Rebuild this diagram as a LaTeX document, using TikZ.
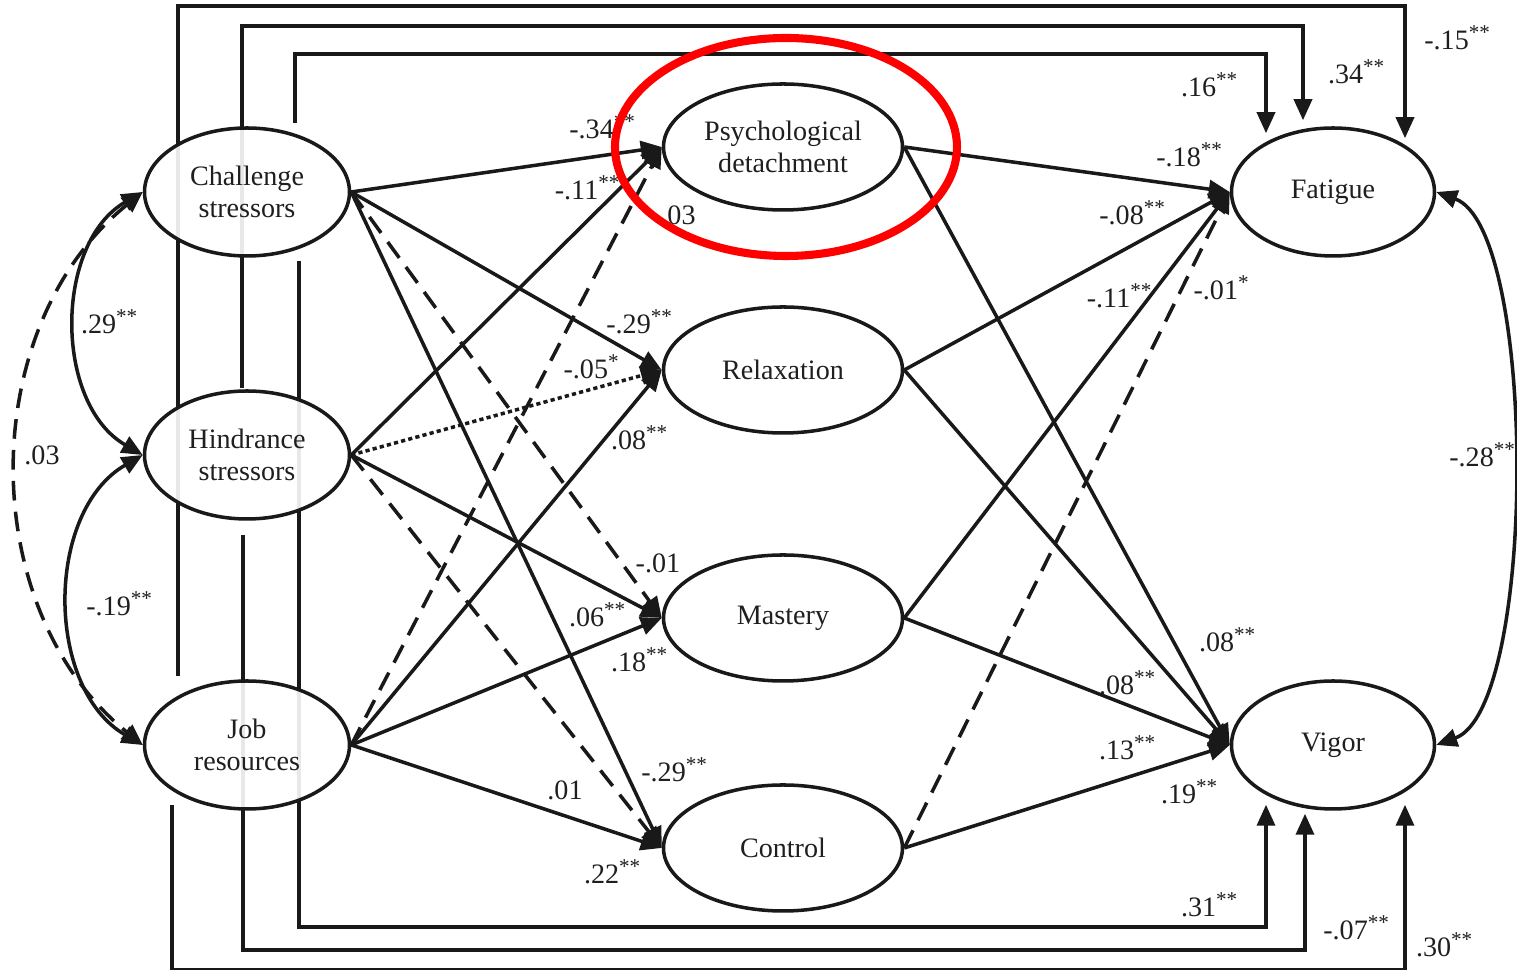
\documentclass[tikz,border=0pt]{standalone}
\usepackage{fontspec}
\setmainfont{Liberation Serif}
\usetikzlibrary{
  shapes.geometric,
  arrows.meta,
  positioning, calc,
  backgrounds
}
\newcommand{\sigb}{\textsuperscript{**}}
\newcommand{\siga}{\textsuperscript{*}}

\begin{document}
\begin{tikzpicture}[
  font=\fontsize{8}{9}\selectfont,
  >={Triangle[length=0.21cm, width=0.18cm]},
  text=black!88,
  %--- ellipse styles for the latent constructs ---
  construct/.style={
    draw=black!90, fill=white, fill opacity=0.9, text opacity=1,
    ellipse, inner sep=0pt,
    minimum width=2.05cm, minimum height=1.28cm,
    align=center, line width=1pt
  },
  mediator/.style={
    construct, minimum width=2.39cm, minimum height=1.26cm
  },
  %--- path styles ---
  effect/.style={
    ->, draw=black!90, line width=1pt
  },
  nseffect/.style={
    effect, dash pattern=on 5.6pt off 3.2pt
  },
  doteffect/.style={
    effect, dash pattern=on 1.2pt off 0.9pt
  },
  covar/.style={
    <->, draw=black!90, line width=1pt
  },
  coef/.style={
    inner sep=1pt
  }
]

\useasboundingbox (0,0) rectangle (15.17,9.70);

%------------------------------------------------------------------
%  Constructs
%------------------------------------------------------------------
\node[construct] (chal)  at (2.47, 7.78) {Challenge\\stressors};
\node[construct] (hind)  at (2.47, 5.15) {Hindrance\\stressors};
\node[construct] (job)   at (2.47, 2.25) {Job\\resources};

\node[mediator]  (pd)    at (7.83, 8.23) {Psychological\\detachment};
\node[mediator]  (relax) at (7.83, 6.00) {Relaxation};
\node[mediator]  (mast)  at (7.83, 3.52) {Mastery};
\node[mediator]  (ctrl)  at (7.83, 1.22) {Control};

\node[construct, minimum width=2.03cm] (fat) at (13.33, 7.78) {Fatigue};
\node[construct, minimum width=2.03cm] (vig) at (13.33, 2.25) {Vigor};

%------------------------------------------------------------------
%  Direct effects (frame lines, behind the ellipses)
%------------------------------------------------------------------
\begin{scope}[on background layer]
  \draw[effect] ([shift={(-0.69,0.03)}]job.north) -- ++(0,6.70)
    -| ([shift={(0.72,-0.12)}]fat.north);
  \draw[effect] ([shift={(-0.05,0.01)}]hind.north) -- ++(0,3.62)
    -| ([shift={(-0.30,0.06)}]fat.north);
  \draw[effect] ([shift={(0.48,0.03)}]chal.north) -- ++(0,0.69)
    -| ([shift={(-0.67,-0.07)}]fat.north);

  \draw[effect] ([shift={(0.52,-0.03)}]chal.south) -- ++(0,-6.66)
    -| ([shift={(-0.67,0.06)}]vig.south);
  \draw[effect] ([shift={(-0.04,-0.14)}]hind.south) -- ++(0,-4.15)
    -| ([shift={(-0.28,-0.03)}]vig.south);
  \draw[effect] ([shift={(-0.75,0.06)}]job.south) -- ++(0,-1.65)
    -| ([shift={(0.72,0.06)}]vig.south);
\end{scope}

\node[coef] (d-jf) at (14.58, 9.32) {-.15\sigb};
\node[coef] (d-hf) at (13.57, 8.98) {.34\sigb};
\node[coef] (d-cf) at (12.10, 8.85) {.16\sigb};
\node[coef] (d-cv) at (12.10, 0.65) {.31\sigb};
\node[coef] (d-hv) at (13.57, 0.42) {-.07\sigb};
\node[coef] (d-jv) at (14.45, 0.25) {.30\sigb};

%------------------------------------------------------------------
%  Correlations
%------------------------------------------------------------------
\draw[covar] (chal.west) to[out=210, in=150] (hind.west);
\draw[covar] (hind.west) to[out=210, in=150] (job.west);
\draw[covar, dash pattern=on 5.6pt off 3.2pt]
  (chal.west) to[out=219, in=141] (job.west);
\draw[covar] (fat.east) to[out=-20, in=20, looseness=0.5] (vig.east);

\node[coef] (r-ch) at (1.10, 6.48) {.29\sigb};
\node[coef] (r-hj) at (1.20, 3.66) {-.19\sigb};
\node[coef] (r-cj) at (0.42, 5.15) {.03};
\node[coef] (r-fv) at (14.83, 5.15) {-.28\sigb};

%------------------------------------------------------------------
%  Stressors / resources -> recovery experiences
%------------------------------------------------------------------
\draw[effect]    (chal.east) -- (pd.west);
\draw[effect]    (chal.east) -- (relax.west);
\draw[nseffect]  (chal.east) -- (mast.west);
\draw[effect]    (chal.east) -- (ctrl.west);

\draw[effect]    (hind.east) -- (pd.west);
\draw[doteffect] (hind.east) -- (relax.west);
\draw[effect]    (hind.east) -- (mast.west);
\draw[nseffect]  (hind.east) -- (ctrl.west);

\draw[nseffect]  (job.east)  -- (pd.west);
\draw[effect]    (job.east)  -- (relax.west);
\draw[effect]    (job.east)  -- (mast.west);
\draw[effect]    (job.east)  -- (ctrl.west);

\node[coef] (a-cp) at (6.03, 8.43) {-.34\sigb};
\node[coef] (a-hp) at (5.88, 7.82) {-.11\sigb};
\node[coef] (a-jp) at (6.78, 7.55) {.03};
\node[coef] (a-cr) at (6.40, 6.48) {-.29\sigb};
\node[coef] (a-hr) at (5.92, 6.03) {-.05\siga};
\node[coef] (a-jr) at (6.40, 5.32) {.08\sigb};
\node[coef] (a-cm) at (6.58, 4.07) {-.01};
\node[coef] (a-hm) at (5.98, 3.55) {.06\sigb};
\node[coef] (a-jm) at (6.40, 3.10) {.18\sigb};
\node[coef] (a-cc) at (6.75, 2.00) {-.29\sigb};
\node[coef] (a-hc) at (5.65, 1.80) {.01};
\node[coef] (a-jc) at (6.13, 0.98) {.22\sigb};

%------------------------------------------------------------------
%  Recovery experiences -> outcomes
%------------------------------------------------------------------
\draw[effect]    (pd.east)    -- (fat.west);
\draw[effect]    (relax.east) -- (fat.west);
\draw[effect]    (mast.east)  -- (fat.west);
\draw[nseffect]  (ctrl.east)  -- (fat.west);

\draw[effect]    (pd.east)    -- (vig.west);
\draw[effect]    (relax.east) -- (vig.west);
\draw[effect]    (mast.east)  -- (vig.west);
\draw[effect]    (ctrl.east)  -- (vig.west);

\node[coef] (b-pf) at (11.90, 8.15) {-.18\sigb};
\node[coef] (b-rf) at (11.33, 7.57) {-.08\sigb};
\node[coef] (b-mf) at (11.20, 6.74) {-.11\sigb};
\node[coef] (b-cf) at (12.22, 6.82) {-.01\siga};
\node[coef] (b-pv) at (12.28, 3.30) {.08\sigb};
\node[coef] (b-rv) at (11.28, 2.87) {.08\sigb};
\node[coef] (b-mv) at (11.28, 2.22) {.13\sigb};
\node[coef] (b-cv) at (11.90, 1.78) {.19\sigb};

%------------------------------------------------------------------
%  Highlight
%------------------------------------------------------------------
\draw[red, line width=2.3pt]
  ([xshift=0.03cm]pd.center) ellipse [x radius=1.71cm, y radius=1.09cm];

\end{tikzpicture}
\end{document}
